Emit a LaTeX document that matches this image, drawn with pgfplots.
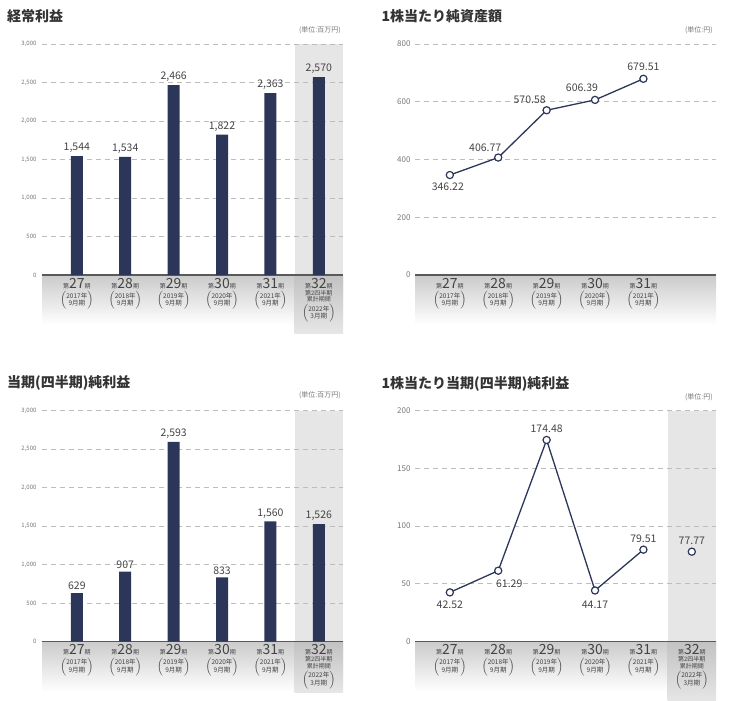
\documentclass[border=0pt]{standalone}
\usepackage{fontspec}
\setmainfont{Noto Sans CJK JP}
\usepackage{pgfplots}
\pgfplotsset{compat=1.18}

\definecolor{navy}{HTML}{2B3659}
\definecolor{titlec}{HTML}{333333}
\definecolor{labc}{HTML}{444444}
\definecolor{tickc}{HTML}{777777}
\definecolor{gridc}{HTML}{BDBDBD}
\definecolor{axisc}{HTML}{5A5A5A}
\definecolor{colc}{HTML}{E6E6E7}
\definecolor{bandc}{HTML}{CBCBCB}
\definecolor{bandd}{HTML}{C2C2C2}

% category labels under the axis
\newcommand\kinum[1]{{\fontsize{6}{7}\selectfont 第}{\fontsize{14}{14}\selectfont #1}{\fontsize{6}{7}\selectfont 期}}
\newcommand\paren[2]{{\fontsize{6.5}{7.8}\selectfont$\left(\begin{tabular}{@{}c@{}}#1\\#2\end{tabular}\right)$}}
\newcommand\kl[2]{\kinum{#1}\\[1.5pt]\paren{#2年}{9月期}}
\newcommand\klq{\kinum{32}\\[0pt]{\fontsize{6}{7}\selectfont 第2四半期}\\[-0.5pt]{\fontsize{6}{7}\selectfont 累計期間}\\[1pt]\paren{2022年}{3月期}}

\pgfplotsset{
  panel/.style={
    scale only axis, anchor=south west, width=301pt, height=231pt,
    xmin=-0.72, xmax=5.5, ymin=0,
    axis x line*=bottom, axis y line*=left,
    y axis line style={draw=none},
    x axis line style={draw=axisc, line width=1.5pt},
    major tick length=0pt,
    ymajorgrids,
    major grid style={draw=gridc, dash pattern=on 5pt off 4pt, line width=0.8pt},
    xticklabel style={align=center, anchor=north, text=labc, inner sep=0pt, yshift=-3pt,
      font=\fontsize{6}{7}\selectfont},
    clip=false,
    /pgf/number format/assume math mode=true,
    /pgf/number format/1000 sep={,},
  },
  barpanel/.style={panel, ymax=3000, ytick={0,500,...,3000},
    xtick={0,...,5},
    xticklabels={\kl{27}{2017},\kl{28}{2018},\kl{29}{2019},\kl{30}{2020},\kl{31}{2021},\klq},
    yticklabel style={font=\fontsize{6}{7}\selectfont, text=tickc, xshift=-2pt},
  },
  linepanel/.style={panel,
    yticklabel style={font=\fontsize{8}{9}\selectfont, text=tickc, xshift=-1pt},
  },
  barplot/.style={ybar, bar width=12pt, fill=navy, draw=none,
    nodes near coords,
    every node near coord/.append style={font=\fontsize{10.5}{12}\selectfont, text=labc, inner sep=1pt, yshift=2pt},
  },
  lineplot/.style={navy, line width=1.3pt, mark=*, mark size=3.6pt,
    mark options={fill=white, draw=navy, line width=1.2pt},
    nodes near coords,
    visualization depends on={\thisrow{dx} \as \dx},
    visualization depends on={\thisrow{dy} \as \dy},
    every node near coord/.append style={font=\fontsize{10.5}{12}\selectfont, text=labc,
      anchor=center, xshift=\dx pt, yshift=\dy pt,
      /pgf/number format/.cd, fixed, fixed zerofill, precision=2},
  },
}

\begin{document}
\begin{tikzpicture}
\useasboundingbox (0,0) rectangle (729pt,-701pt);

% backgrounds: highlighted column and fading band under the axes
\fill[colc] (294.6pt,-44pt) rectangle (343pt,-333pt);
\shade[top color=bandc, bottom color=white] (42pt,-275pt) rectangle (343pt,-325pt);
\shade[top color=bandd, bottom color=colc] (294.6pt,-275pt) rectangle (343pt,-333pt);

\shade[top color=bandc, bottom color=white] (415pt,-275pt) rectangle (716pt,-325pt);

\fill[colc] (294.6pt,-410.5pt) rectangle (343pt,-692pt);
\shade[top color=bandc, bottom color=white] (42pt,-641.5pt) rectangle (343pt,-691.5pt);
\shade[top color=bandd, bottom color=colc] (294.6pt,-641.5pt) rectangle (343pt,-692pt);

\fill[colc] (667.6pt,-410.5pt) rectangle (716pt,-701pt);
\shade[top color=bandc, bottom color=white] (415pt,-641.5pt) rectangle (716pt,-691.5pt);
\shade[top color=bandd, bottom color=colc] (667.6pt,-641.5pt) rectangle (716pt,-701pt);

% titles and units
\node[anchor=west, inner sep=0pt, text=titlec, font=\fontsize{14}{16}\selectfont\bfseries] at (7pt,-16pt) {経常利益};
\node[anchor=west, inner sep=0pt, text=titlec, font=\fontsize{14}{16}\selectfont\bfseries] at (381.5pt,-16pt) {1株当たり純資産額};
\node[anchor=west, inner sep=0pt, text=titlec, font=\fontsize{14}{16}\selectfont\bfseries] at (7pt,-383pt) {当期(四半期)純利益};
\node[anchor=west, inner sep=0pt, text=titlec, font=\fontsize{14}{16}\selectfont\bfseries] at (381.5pt,-384pt) {1株当たり当期(四半期)純利益};
\node[anchor=east, inner sep=0pt, text=tickc, font=\fontsize{7}{8}\selectfont] at (341pt,-30.5pt) {(単位:百万円)};
\node[anchor=east, inner sep=0pt, text=tickc, font=\fontsize{7}{8}\selectfont] at (713pt,-30.5pt) {(単位:円)};
\node[anchor=east, inner sep=0pt, text=tickc, font=\fontsize{7}{8}\selectfont] at (341pt,-395.5pt) {(単位:百万円)};
\node[anchor=east, inner sep=0pt, text=tickc, font=\fontsize{7}{8}\selectfont] at (713pt,-397pt) {(単位:円)};

% 経常利益
\begin{axis}[barpanel, at={(42pt,-275pt)}]
\addplot[barplot] coordinates {(0,1544) (1,1534) (2,2466) (3,1822) (4,2363) (5,2570)};
\end{axis}

% 1株当たり純資産額
\begin{axis}[linepanel, at={(415pt,-275pt)}, ymax=800, ytick={0,200,...,800},
  xtick={0,...,4},
  xticklabels={\kl{27}{2017},\kl{28}{2018},\kl{29}{2019},\kl{30}{2020},\kl{31}{2021}}]
\addplot[lineplot] table {
x y dx dy
0 346.22 -2 -12
1 406.77 -13 10
2 570.58 -17 10
3 606.39 -13 12
4 679.51 0 12
};
\end{axis}

% 当期(四半期)純利益
\begin{axis}[barpanel, at={(42pt,-641.5pt)}]
\addplot[barplot] coordinates {(0,629) (1,907) (2,2593) (3,833) (4,1560) (5,1526)};
\end{axis}

% 1株当たり当期(四半期)純利益
\begin{axis}[linepanel, at={(415pt,-641.5pt)}, ymax=200, ytick={0,50,...,200},
  xtick={0,...,5},
  xticklabels={\kl{27}{2017},\kl{28}{2018},\kl{29}{2019},\kl{30}{2020},\kl{31}{2021},\klq}]
\addplot[lineplot] table {
x y dx dy
0 42.52 0 -12
1 61.29 11 -13
2 174.48 0 11
3 44.17 0 -14
4 79.51 0 11
};
\addplot[lineplot] table {
x y dx dy
5 77.77 0 11
};
\end{axis}
\end{tikzpicture}
\end{document}
